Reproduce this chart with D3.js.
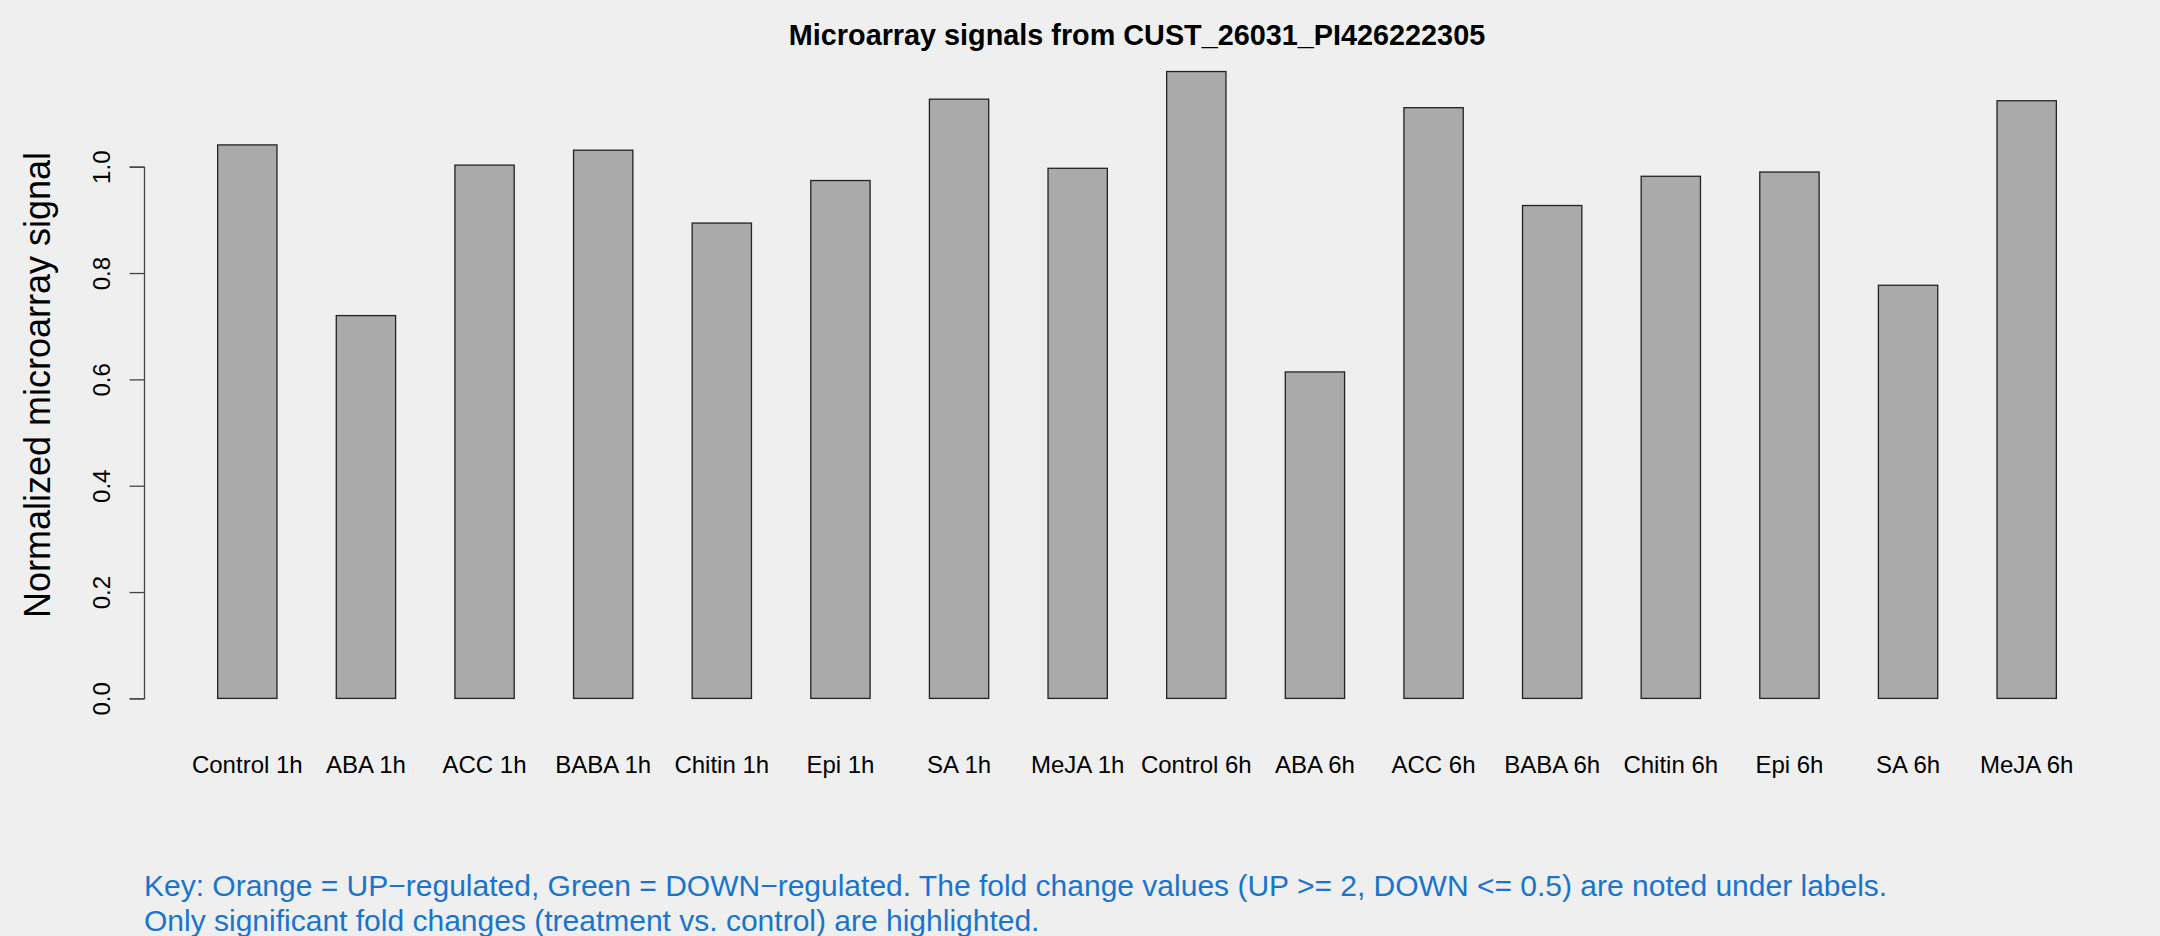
<!DOCTYPE html>
<html>
<head>
<meta charset="utf-8">
<script src="https://cdn.jsdelivr.net/npm/d3@7"></script>
<style>
  html, body { margin: 0; padding: 0; background: #efefef; }
  svg { display: block; font-family: "Liberation Sans", Arial, Helvetica, sans-serif; }
</style>
</head>
<body>
<svg id="chart" width="2160" height="936"></svg>
<script>
// Sample labels, in plot order
var conditions = ["Control 1h", "ABA 1h", "ACC 1h", "BABA 1h", "Chitin 1h", "Epi 1h", "SA 1h", "MeJA 1h",
                  "Control 6h", "ABA 6h", "ACC 6h", "BABA 6h", "Chitin 6h", "Epi 6h", "SA 6h", "MeJA 6h"];

// Normalized signal
var signals = [1.041, 0.720, 1.003, 1.031, 0.894, 0.974, 1.127, 0.997,
               1.179, 0.614, 1.111, 0.927, 0.982, 0.990, 0.777, 1.124];

var yTicks = [0, 0.2, 0.4, 0.6, 0.8, 1.0];

var titleText = "Microarray signals from CUST_26031_PI426222305";
var yLabel = "Normalized microarray signal";
var keyLines = [
  "Key: Orange = UP\u2212regulated, Green = DOWN\u2212regulated. The fold change values (UP >= 2, DOWN <= 0.5) are noted under labels.",
  "Only significant fold changes (treatment vs. control) are highlighted."
];

var W = 2160, H = 936;
// plot region, roughly what R's barplot gave
var plot = { left: 144, right: 2130, top: 47, bottom: 723 };

var svg = d3.select('#chart');

var x = d3.scaleBand()
  .domain(conditions)
  .range([188, 2086])
  .paddingInner(0.5)
  .paddingOuter(0.25);

var y = d3.scaleLinear()
  .domain([0, 1])
  .range([698.4, 166.7]);

// bars
svg.append('g')
  .selectAll('rect')
  .data(signals)
  .enter().append('rect')
  .attr('x', function(d, i){ return x(conditions[i]); })
  .attr('y', function(d){ return y(d); })
  .attr('width', x.bandwidth())
  .attr('height', function(d){ return y(0) - y(d); })
  .attr('fill', '#aaaaaa')
  .attr('stroke', '#222')
  .attr('stroke-width', 1.3);

// y axis, R style (rotated tick labels)
var yAxis = d3.axisLeft(y)
  .tickValues(yTicks)
  .tickFormat(d3.format('.1f'))
  .tickSizeInner(14.4)
  .tickSizeOuter(14.4)
  .tickPadding(0);

var gy = svg.append('g')
  .attr('transform', 'translate(' + plot.left + ',0)')
  .call(yAxis);
gy.select('.domain').attr('stroke', '#444').attr('stroke-width', 1.3);
gy.selectAll('.tick line').attr('stroke', '#444').attr('stroke-width', 1.3);
gy.selectAll('.tick text')
  .attr('x', null).attr('dy', null)
  .attr('transform', 'translate(-34,0) rotate(-90)')
  .attr('text-anchor', 'middle')
  .attr('font-size', 24)
  .attr('fill', '#000');

// category labels under the bars
svg.append('g')
  .selectAll('text')
  .data(conditions)
  .enter().append('text')
  .attr('x', function(d){ return x(d) + x.bandwidth() / 2; })
  .attr('y', 773)
  .attr('text-anchor', 'middle')
  .attr('font-size', 24)
  .text(function(d){ return d; });

// title
svg.append('text')
  .attr('x', (plot.left + plot.right) / 2)
  .attr('y', 45)
  .attr('text-anchor', 'middle')
  .attr('font-size', 28.8)
  .attr('font-weight', 'bold')
  .text(titleText);

// y label
svg.append('text')
  .attr('transform', 'translate(50,' + ((plot.top + plot.bottom) / 2) + ') rotate(-90)')
  .attr('text-anchor', 'middle')
  .attr('font-size', 36)
  .text(yLabel);

// key under the chart
svg.append('g')
  .selectAll('text')
  .data(keyLines)
  .enter().append('text')
  .attr('x', 144)
  .attr('y', function(d, i){ return 896 + i * 34.5; })
  .attr('font-size', 30)
  .attr('fill', '#1874cd')
  .text(function(d){ return d; });
</script>
</body>
</html>
